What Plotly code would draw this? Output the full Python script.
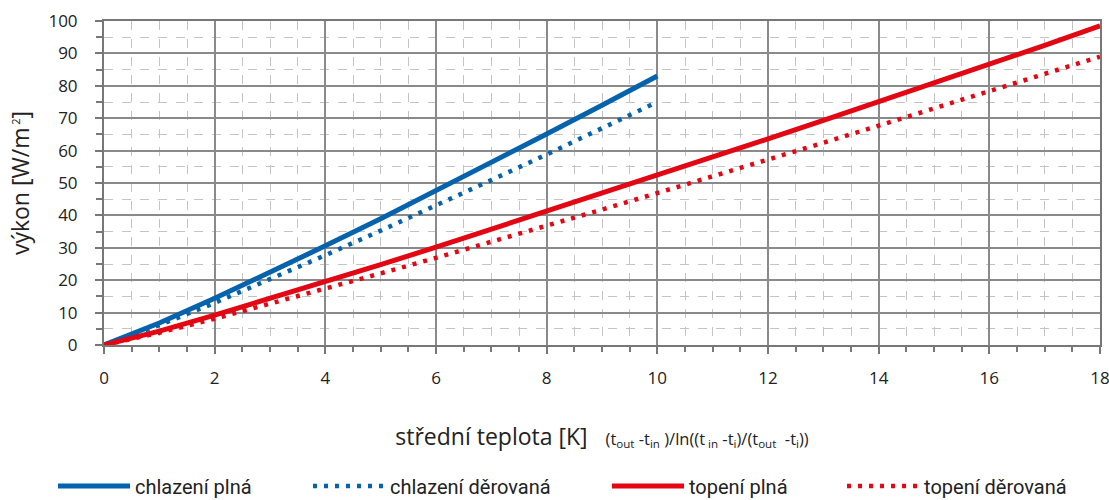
import plotly.graph_objects as go

x_cool = [0, 1, 2, 3, 4, 5, 6, 7, 8, 9, 10]
cool_full = [0, 6.8, 14.4, 22.4, 30.6, 39.0, 47.6, 56.3, 65.1, 74.0, 83.0]
cool_perf = [0, 6.1, 13.0, 20.2, 27.7, 35.3, 43.0, 50.9, 58.8, 66.9, 75.0]

x_heat = [0, 1, 2, 3, 4, 5, 6, 7, 8, 9, 10, 11, 12, 13, 14, 15, 16, 17, 18]
heat_full = [0, 4.3, 9.2, 14.3, 19.5, 24.8, 30.2, 35.7, 41.2, 46.7, 52.3, 57.9,
             63.6, 69.3, 75.0, 80.8, 86.6, 92.5, 98.5]
heat_perf = [0, 3.8, 8.1, 12.7, 17.3, 22.1, 26.9, 31.8, 36.8, 41.8, 46.9, 52.0,
             57.2, 62.4, 67.7, 73.0, 78.3, 83.7, 89.0]

names = ["chlazení plná", "chlazení děrovaná", "topení plná", "topení děrovaná"]

BLUE = "#0563AD"
RED = "#E30613"

fig = go.Figure()
fig.add_trace(go.Scatter(x=x_cool, y=cool_full, mode="lines", name=names[0],
                         legend="legend", line=dict(color=BLUE, width=5)))
fig.add_trace(go.Scatter(x=x_cool, y=cool_perf, mode="lines", name=names[1],
                         legend="legend2", line=dict(color=BLUE, width=4.5, dash="4px,7px")))
fig.add_trace(go.Scatter(x=x_heat, y=heat_full, mode="lines", name=names[2],
                         legend="legend3", line=dict(color=RED, width=5)))
fig.add_trace(go.Scatter(x=x_heat, y=heat_perf, mode="lines", name=names[3],
                         legend="legend4", line=dict(color=RED, width=4.5, dash="4px,7px")))

font = "Open Sans"
leg_font = dict(family="Roboto", size=20, color="#222")


def leg(xpos):
    return dict(orientation="h", x=xpos, xanchor="left", y=-0.435, yanchor="middle",
                font=leg_font, itemwidth=72, bgcolor="rgba(0,0,0,0)", borderwidth=0)


fig.update_layout(
    width=1109, height=500,
    margin=dict(l=104, r=9, t=21, b=155, autoexpand=False),
    paper_bgcolor="white", plot_bgcolor="white",
    font=dict(family=font, color="#222", size=17),
    showlegend=True,
    legend=leg(-0.0512),
    legend2=leg(0.2048),
    legend3=leg(0.505),
    legend4=leg(0.741),
    xaxis=dict(range=[0, 18], dtick=2, tick0=0, showgrid=True, automargin=False,
               gridcolor="#8a8a8a", gridwidth=1.5,
               showline=True, linecolor="#777", linewidth=2, mirror=True,
               ticks="outside", ticklen=7, tickcolor="#777", tickwidth=1.5,
               ticklabelstandoff=10, ticklabeloverflow="allow",
               zeroline=False, tickfont=dict(size=17),
               minor=dict(dtick=0.5, showgrid=True, griddash="dash",
                          gridcolor="#c4c4c4", gridwidth=1,
                          ticks="outside", ticklen=5, tickcolor="#777"),
               title=dict(text="střední teplota [K]   <span style='font-size:16.5px'>(t<sub>out</sub> -t<sub>in</sub> )/ln((t<sub> in</sub> -t<sub>i</sub>)/(t<sub>out</sub>  -t<sub>i</sub>))</span>",
                          font=dict(size=23), standoff=40)),
    yaxis=dict(range=[0, 100], dtick=10, tick0=0, showgrid=True, automargin=False,
               gridcolor="#8a8a8a", gridwidth=1.5,
               showline=True, linecolor="#777", linewidth=2, mirror=True,
               ticks="outside", ticklen=7, tickcolor="#777", tickwidth=1.5,
               ticklabelstandoff=14, ticklabeloverflow="allow",
               zeroline=False, tickfont=dict(size=17),
               minor=dict(dtick=5, showgrid=True, griddash="dash",
                          gridcolor="#c4c4c4", gridwidth=1,
                          ticks="outside", ticklen=6, tickcolor="#777"),
               title=dict(text="výkon [W/m<sup><span style='font-size:11px'> 2</span></sup>]",
                          font=dict(size=23), standoff=12)),
)

fig.write_html("out.html", config={"displayModeBar": False},
               post_script="document.body.style.margin='0';")
